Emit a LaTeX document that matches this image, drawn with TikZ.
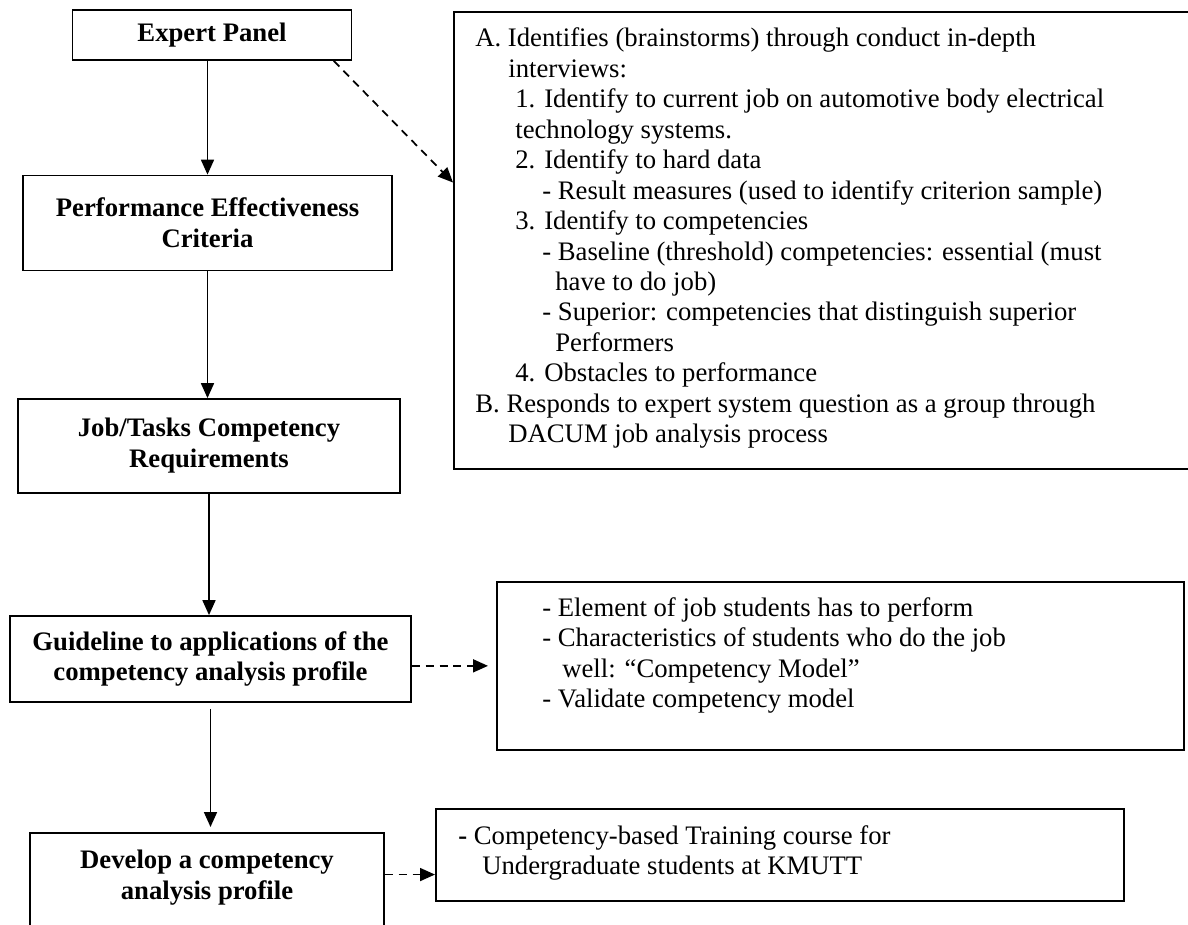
\documentclass[tikz,border=0pt]{standalone}
\usepackage{fontspec}
\setmainfont{Liberation Serif}
\usetikzlibrary{arrows.meta,calc,positioning}

\newcommand{\diagfont}{\fontsize{15.2}{17.6}\selectfont}
\newcommand{\notefont}{\fontsize{15.2}{17.35}\selectfont}

\tikzset{
  stepbox/.style={draw, line width=1pt, align=center, font=\diagfont\bfseries},
  infobox/.style={draw, line width=1pt, inner sep=0pt},
  infotext/.style={align=left, inner sep=0pt, font=\notefont},
  flow/.style={-{Triangle[length=0.3cm,width=0.26cm]}, line width=1pt},
  aside/.style={flow, dash pattern=on 4.5pt off 3.4pt}
}

\begin{document}
\begin{tikzpicture}[x=0.02cm, y=-0.02cm]
		\useasboundingbox (0,0) rectangle (1188,925);
		
		% Main steps
		\node[stepbox, minimum width=5.58cm, minimum height=1cm] (expert) at (212,35) {Expert Panel};
		\node[stepbox, minimum width=7.38cm, minimum height=1.9cm] (pec) at (207.5,223) {Performance Effectiveness\\Criteria};
		\node[stepbox, minimum width=7.64cm, minimum height=1.88cm] (jtcr) at (209,446) {Job/Tasks Competency\\Requirements};
		\node[stepbox, minimum width=8.02cm, minimum height=1.72cm] (guide) at (210.5,659) {Guideline to applications of the\\competency analysis profile};
		\node[stepbox, minimum width=7.08cm, minimum height=2.4cm, anchor=north] (develop) at (207,832) {};
		\node[font=\diagfont\bfseries, align=center, inner sep=0pt, below=0.36cm of develop.north] (developtext) {Develop a competency\\analysis profile};
		
		% Side boxes
		\node[infobox, minimum width=15.4cm, minimum height=9.14cm, anchor=north west] (bigbox) at (453,11) {};
		\node[infotext, below right=0.33cm and 0.44cm of bigbox.north west] (bigtext) {%
			A. Identifies (brainstorms) through conduct in-depth\\
			\hspace*{0.66cm}interviews:\\
			\hspace*{0.8cm}1. Identify to current job on automotive body electrical\\
			\hspace*{0.8cm}technology systems.\\
			\hspace*{0.8cm}2. Identify to hard data\\
			\hspace*{1.34cm}- Result measures (used to identify criterion sample)\\
			\hspace*{0.8cm}3. Identify to competencies\\
			\hspace*{1.34cm}- Baseline (threshold) competencies: essential (must\\
			\hspace*{1.6cm}have to do job)\\
			\hspace*{1.34cm}- Superior: competencies that distinguish superior\\
			\hspace*{1.6cm}Performers\\
			\hspace*{0.8cm}4. Obstacles to performance\\
			B. Responds to expert system question as a group through\\
			\hspace*{0.66cm}DACUM job analysis process};
		
		\node[infobox, minimum width=13.74cm, minimum height=3.36cm, anchor=north west] (elembox) at (496,581) {};
		\node[infotext, below right=0.32cm and 0.92cm of elembox.north west] (elemtext) {%
			- Element of job students has to perform\\
			- Characteristics of students who do the job\\
			\hspace*{0.4cm}well: “Competency Model”\\
			- Validate competency model};
		
		\node[infobox, minimum width=13.76cm, minimum height=1.84cm, anchor=north west] (trainbox) at (435,808) {};
		\node[infotext, below right=0.34cm and 0.46cm of trainbox.north west] (traintext) {%
			\textbf{-} Competency-based Training course for\\
			\hspace*{0.48cm}Undergraduate students at KMUTT};
		
		% Flow arrows
		\draw[flow] (expert.south -| pec.north) -- (pec.north);
		\draw[flow] (pec.south) -- (pec.south |- jtcr.north);
		\draw[flow] (jtcr.south) -- (jtcr.south |- guide.north);
		\draw[flow, shorten <=0.12cm, shorten >=0.1cm] (guide.south) -- (guide.south |- develop.north);
		
		% Dashed links
		\coordinate (bigin) at ($(bigbox.north west)!0.374!(bigbox.south west)$);
		\coordinate (trainin) at ($(trainbox.south west)!0.29!(trainbox.north west)$);
		\draw[aside] (expert.-12.5) -- (bigin);
		\draw[aside, shorten >=0.16cm] (guide.east |- elembox.west) -- (elembox.west);
		\draw[aside] (develop.east |- trainin) -- (trainin);
		
	\end{tikzpicture}
\end{document}
